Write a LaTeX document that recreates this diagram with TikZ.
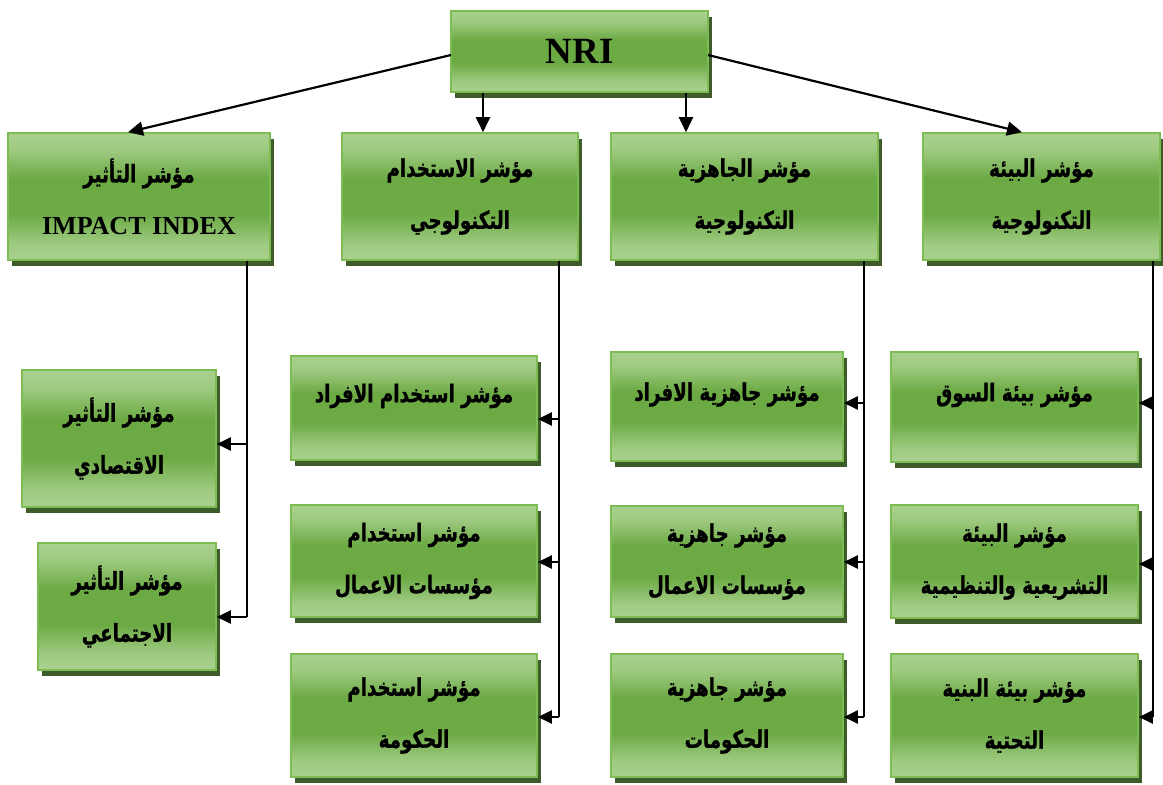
\documentclass[tikz,border=0pt]{standalone}
\usepackage{fontspec}
\usepackage{graphicx}
\setmainfont{Liberation Serif}
\newfontfamily\arabicfont[Script=Arabic, BoldFeatures={FakeBold=1.2}]{DejaVu Sans}
\TeXXeTstate=1
\usetikzlibrary{arrows.meta,shadows}
\definecolor{lightg}{RGB}{169,209,142}
\definecolor{darkg}{RGB}{108,170,68}
\definecolor{borderg}{RGB}{125,188,82}
\definecolor{shadowg}{RGB}{62,92,42}
\pgfdeclareverticalshading{boxshade}{100bp}{color(0bp)=(lightg); color(25bp)=(lightg); color(31bp)=(lightg!85!darkg); color(43bp)=(darkg); color(57bp)=(darkg); color(69bp)=(lightg!85!darkg); color(75bp)=(lightg); color(100bp)=(lightg)}
\newcommand\AR[1]{\scalebox{0.96}[1.28]{\arabicfont\bfseries\beginR #1\endR}}
\tikzset{
  x=1pt, y=-1pt,
  box/.style={draw=borderg, line width=1.6pt, shading=boxshade,
    drop shadow={shadow xshift=4pt, shadow yshift=-6pt, fill=shadowg, opacity=1},
    inner sep=0pt, align=center, font=\fontsize{19}{52}\selectfont},
  oneline/.style={text depth=30pt},
  conn/.style={line width=1.8pt, black},
  arr/.style={line width=2.2pt, black, -{Triangle[length=14pt,width=13pt]}},
  toparr/.style={line width=2.2pt, black, -{Triangle[length=15pt,width=14pt]}},
}
\begin{document}
\begin{tikzpicture}
\useasboundingbox (0,0) rectangle (1163,785);
% top
\node[box, minimum width=257pt, minimum height=81pt, font=\fontsize{37}{40}\selectfont\bfseries] (nri) at (579.5,51.5) {NRI};
% row 2
\node[box, minimum width=262pt, minimum height=127pt] (imp) at (139,196.5) {\AR{مؤشر  التأثير}\\{\bfseries\fontsize{26}{52}\selectfont IMPACT INDEX}};
\node[box, minimum width=236pt, minimum height=127pt] (use) at (460,196.5) {\AR{مؤشر  الاستخدام}\\\AR{التكنولوجي}};
\node[box, minimum width=267pt, minimum height=127pt] (rdy) at (744.5,196.5) {\AR{مؤشر  الجاهزية}\\\AR{التكنولوجية}};
\node[box, minimum width=237pt, minimum height=127pt] (env) at (1041.5,196.5) {\AR{مؤشر  البيئة}\\\AR{التكنولوجية}};
% column 1
\node[box, minimum width=194pt, minimum height=137pt] (eco) at (119,438.5) {\AR{مؤشر  التأثير}\\\AR{الاقتصادي}};
\node[box, minimum width=178pt, minimum height=127pt] (soc) at (127,606.5) {\AR{مؤشر  التأثير}\\\AR{الاجتماعي}};
% column 2
\node[box, oneline, minimum width=246pt, minimum height=104pt] (ui) at (414,408) {\AR{مؤشر  استخدام الافراد}};
\node[box, minimum width=246pt, minimum height=112pt] (ub) at (414,561) {\AR{مؤشر  استخدام}\\\AR{مؤسسات  الاعمال}};
\node[box, minimum width=246pt, minimum height=123pt] (ug) at (414,715.5) {\AR{مؤشر  استخدام}\\\AR{الحكومة}};
% column 3
\node[box, oneline, minimum width=232pt, minimum height=109pt] (ri) at (727,406.5) {\AR{مؤشر جاهزية الافراد}};
\node[box, minimum width=232pt, minimum height=111pt] (rb) at (727,561.5) {\AR{مؤشر  جاهزية}\\\AR{مؤسسات  الاعمال}};
\node[box, minimum width=232pt, minimum height=123pt] (rg) at (727,715.5) {\AR{مؤشر جاهزية}\\\AR{الحكومات}};
% column 4
\node[box, oneline, minimum width=247pt, minimum height=110pt] (mk) at (1014.5,407) {\AR{مؤشر  بيئة السوق}};
\node[box, minimum width=247pt, minimum height=113pt] (lg) at (1014.5,561.5) {\AR{مؤشر  البيئة}\\\AR{التشريعية والتنظيمية}};
\node[box, minimum width=247pt, minimum height=123pt] (inf) at (1014.5,715.5) {\AR{مؤشر  بيئة البنية}\\\AR{التحتية}};
% top arrows
\coordinate (nriL) at (451,55);
\coordinate (nriR) at (708,55);
\draw[toparr] (nriL) -- (imp.north -| 128,0);
\draw[toparr] (nri.south -| 483,0) -- (use.north -| 483,0);
\draw[toparr] (nri.south -| 686,0) -- (rdy.north -| 686,0);
\draw[toparr] (nriR) -- (env.north -| 1022,0);
% impact branch
\coordinate (impE) at (247,617);
\draw[conn] (imp.south -| impE) -- (impE);
\draw[arr] (247,444) -- (eco.east |- 0,444);
\draw[arr] (impE) -- (soc.east |- impE);
% use branch
\coordinate (useE) at (559,717);
\draw[conn] (use.south -| useE) -- (useE);
\draw[arr] (559,419) -- (ui.east |- 0,419);
\draw[arr] (559,562) -- (ub.east |- 0,562);
\draw[arr] (useE) -- (ug.east |- useE);
% readiness branch
\coordinate (rdyE) at (864,717);
\draw[conn] (rdy.south -| rdyE) -- (rdyE);
\draw[arr] (864,403) -- (ri.east |- 0,403);
\draw[arr] (864,562) -- (rb.east |- 0,562);
\draw[arr] (rdyE) -- (rg.east |- rdyE);
% environment branch
\coordinate (envE) at (1153,717);
\draw[conn] (env.south -| envE) -- (envE);
\draw[arr] (1153,403) -- (mk.east |- 0,403);
\draw[arr] (1153,564) -- (lg.east |- 0,564);
\draw[arr] (envE) -- (inf.east |- envE);
\end{tikzpicture}
\end{document}
